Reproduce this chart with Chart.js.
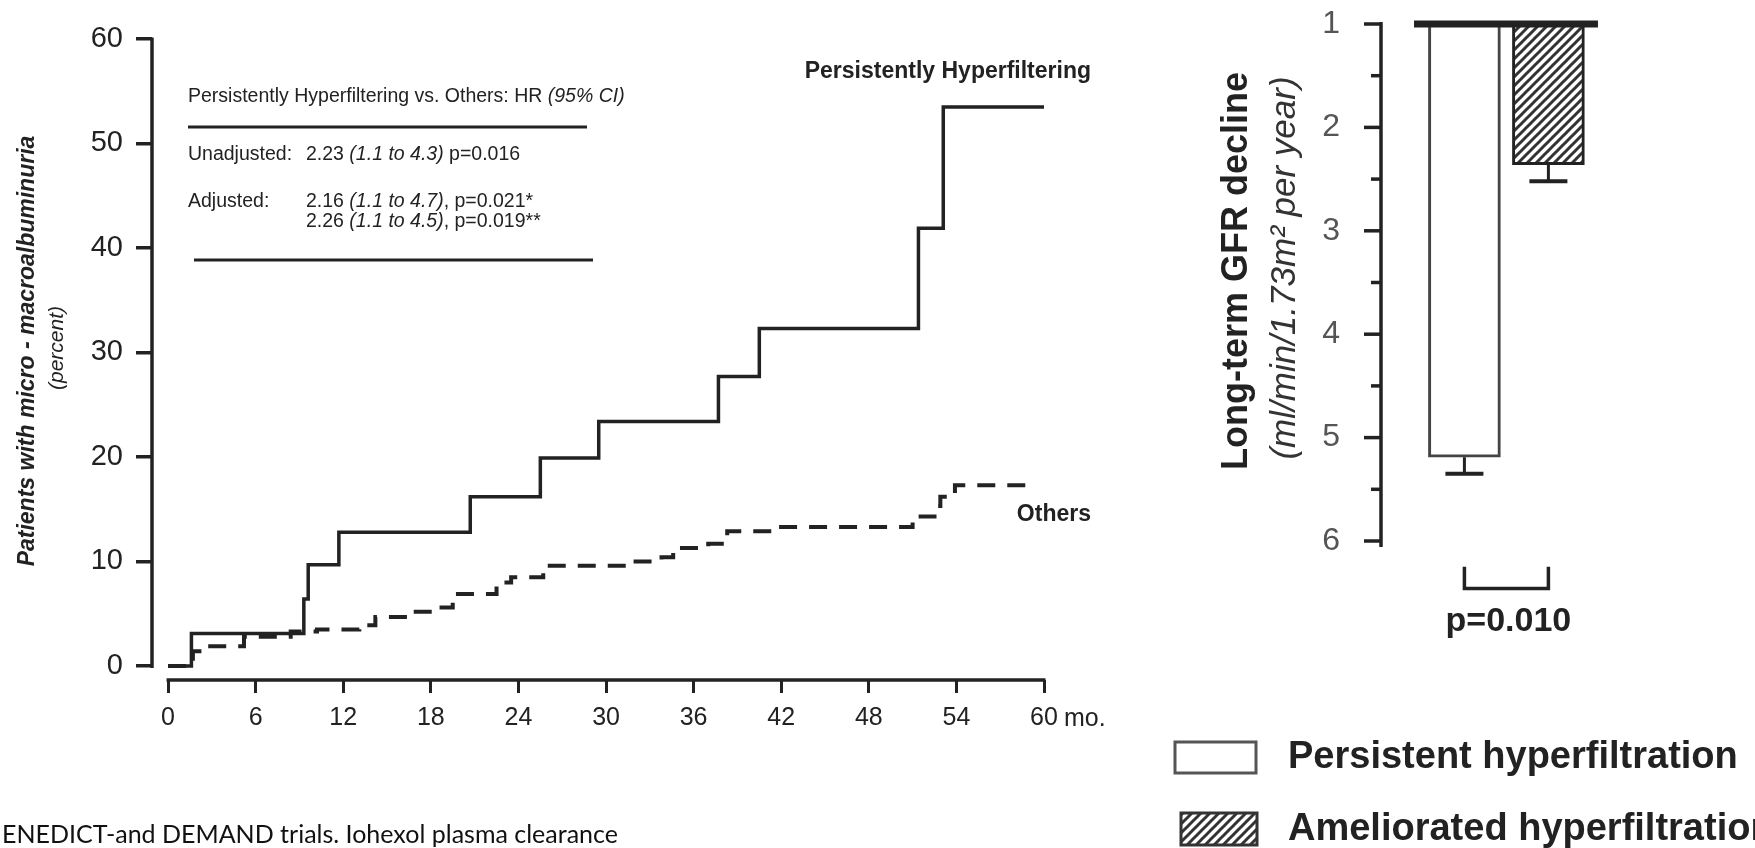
<!DOCTYPE html>
<html>
<head>
<meta charset="utf-8">
<script src="https://cdn.jsdelivr.net/npm/chart.js@4.4.0/dist/chart.umd.min.js"></script>
<style>
  html, body { margin: 0; padding: 0; background: #fff; }
  #wrap { position: relative; width: 1755px; height: 848px; overflow: hidden; }
  #kmChart { position: absolute; left: 0; top: 0; }
  #gfrChart { position: absolute; left: 1150px; top: 0; }
  #caption { position: absolute; left: 2px; top: 821px; font: 25px/25px Lato, sans-serif; color: #111; white-space: nowrap; }
</style>
</head>
<body>
<div id="wrap">
  <canvas id="kmChart" width="1150" height="848"></canvas>
  <canvas id="gfrChart" width="605" height="848"></canvas>
  <div id="caption">ENEDICT-and DEMAND trials. Iohexol plasma clearance</div>
</div>
<script>
// left panel: cumulative incidence (step curves)
const monthTicks = [0, 6, 12, 18, 24, 30, 36, 42, 48, 54, 60];
const percentTicks = [0, 10, 20, 30, 40, 50, 60];
const seriesNames = ['Persistently Hyperfiltering', 'Others'];
const hyperMonths = [0, 1.6, 9.3, 9.6, 11.7, 20.7, 25.5, 29.5, 37.7, 40.5, 51.4, 53.1, 60];
const hyperPct = [0, 3.1, 6.4, 9.7, 12.8, 16.2, 19.9, 23.4, 27.7, 32.3, 41.9, 53.5, 53.5];
const otherMonths = [0, 1.7, 2.6, 5.2, 8.4, 10.2, 13.1, 14.2, 16.4, 18.5, 19.5, 22.5, 23.5, 25.7, 31.4, 33.8, 34.6, 37.0, 38.3, 41.5, 51.0, 52.5, 52.9, 53.9, 59.5];
const otherPct = [0, 1.4, 1.9, 2.8, 3.3, 3.5, 3.9, 4.7, 5.2, 5.6, 6.9, 8.0, 8.5, 9.6, 10.0, 10.4, 11.3, 11.7, 12.9, 13.3, 14.3, 15.3, 16.2, 17.3, 17.3];

// right panel: GFR decline bars
const groups = ['Persistent hyperfiltration', 'Ameliorated hyperfiltration'];
const gfrDecline = [5.19, 2.36];
const gfrSem = [0.16, 0.16];
const gfrTicks = [1, 1.5, 2, 2.5, 3, 3.5, 4, 4.5, 5, 5.5, 6];
const pText = 'p=0.010';

const FONT = '"Liberation Sans", Arial, sans-serif';
const INK = '#222';
Chart.defaults.font.family = FONT;
Chart.defaults.color = INK;

function font(size, style) {
  return (style || '') + ' ' + size + 'px ' + FONT;
}

function runs(ctx, parts, x, y, size) {
  let cx = x;
  parts.forEach(p => {
    ctx.font = font(size, p[1] ? 'italic' : '');
    ctx.fillText(p[0], cx, y);
    cx += ctx.measureText(p[0]).width;
  });
}

function vtext(ctx, s, x, y, f) {
  ctx.save();
  ctx.translate(x, y);
  ctx.rotate(-Math.PI / 2);
  ctx.font = f;
  ctx.textAlign = 'center';
  ctx.textBaseline = 'middle';
  ctx.fillText(s, 0, 0);
  ctx.restore();
}

function line(ctx, x1, y1, x2, y2) {
  ctx.beginPath();
  ctx.moveTo(x1, y1);
  ctx.lineTo(x2, y2);
  ctx.stroke();
}

const kmDecor = {
  id: 'kmDecor',
  afterDraw(chart) {
    const ctx = chart.ctx;
    const x = chart.scales.x;
    const y = chart.scales.y;
    ctx.save();
    ctx.strokeStyle = INK;
    ctx.fillStyle = INK;
    ctx.lineWidth = 3.5;
    line(ctx, x.left, y.getPixelForValue(60) - 1.5, x.left, y.getPixelForValue(0) + 2);
    line(ctx, x.getPixelForValue(0) - 1.5, y.bottom, x.getPixelForValue(60) + 1.5, y.bottom);

    // "mo." after the last month label
    ctx.font = font(25);
    ctx.textBaseline = 'middle';
    ctx.textAlign = 'left';
    ctx.fillText('mo.', x.getPixelForValue(60) + 20, 719);

    // axis title
    vtext(ctx, 'Patients with micro - macroalbuminuria', 28, 351, font(23, 'bold italic'));
    vtext(ctx, '(percent)', 57, 348, font(21, 'italic'));

    // hazard ratio box
    ctx.textAlign = 'left';
    ctx.textBaseline = 'middle';
    runs(ctx, [['Persistently Hyperfiltering vs. Others: HR ', false], ['(95% CI)', true]], 188, 97, 19.5);
    ctx.lineWidth = 3;
    line(ctx, 188, 127, 587, 127);
    runs(ctx, [['Unadjusted:', false]], 188, 155, 19.5);
    runs(ctx, [['2.23 ', false], ['(1.1 to 4.3)', true], [' p=0.016', false]], 306, 155, 19.5);
    runs(ctx, [['Adjusted:', false]], 188, 202, 19.5);
    runs(ctx, [['2.16 ', false], ['(1.1 to 4.7)', true], [', p=0.021*', false]], 306, 202, 19.5);
    runs(ctx, [['2.26 ', false], ['(1.1 to 4.5)', true], [', p=0.019**', false]], 306, 222, 19.5);
    line(ctx, 194, 260, 593, 260);

    // curve labels
    ctx.font = font(23, 'bold');
    ctx.textAlign = 'right';
    ctx.fillText(seriesNames[0], 1091, 72);
    ctx.fillText(seriesNames[1], 1091, 515);
    ctx.restore();
  }
};

new Chart(document.getElementById('kmChart'), {
  type: 'line',
  data: {
    datasets: [{
      label: seriesNames[0],
      data: hyperMonths.map((m, i) => ({ x: m, y: hyperPct[i] })),
      borderColor: INK,
      borderWidth: 3.5,
      stepped: 'before',
      pointRadius: 0,
      fill: false
    }, {
      label: seriesNames[1],
      data: otherMonths.map((m, i) => ({ x: m, y: otherPct[i] })),
      borderColor: INK,
      borderWidth: 4,
      borderDash: [18, 12],
      stepped: 'before',
      pointRadius: 0,
      fill: false
    }]
  },
  options: {
    responsive: false,
    animation: false,
    devicePixelRatio: 1,
    layout: { padding: { top: 39, right: 106, left: 0, bottom: 0 } },
    plugins: { legend: { display: false }, tooltip: { enabled: false } },
    scales: {
      x: {
        type: 'linear',
        min: -1.1,
        max: 60,
        afterBuildTicks: s => { s.ticks = monthTicks.map(v => ({ value: v })); },
        afterFit: s => { s.height = 168; s.paddingLeft = 0; s.paddingRight = 0; },
        border: { display: false },
        grid: { drawOnChartArea: false, tickLength: 13, lineWidth: 3, color: INK },
        ticks: { font: { size: 25 }, color: INK, padding: 10, maxRotation: 0, autoSkip: false }
      },
      y: {
        type: 'linear',
        min: -1.34,
        max: 60,
        afterBuildTicks: s => { s.ticks = percentTicks.map(v => ({ value: v })); },
        afterFit: s => { s.width = 152; s.paddingTop = 0; s.paddingBottom = 0; },
        border: { display: false },
        grid: { drawOnChartArea: false, tickLength: 16, lineWidth: 3.5, color: INK },
        ticks: { font: { size: 29 }, color: INK, padding: 13 }
      }
    }
  },
  plugins: [kmDecor]
});

function hatch() {
  const c = document.createElement('canvas');
  c.width = 9;
  c.height = 9;
  const g = c.getContext('2d');
  g.fillStyle = '#fff';
  g.fillRect(0, 0, 9, 9);
  g.strokeStyle = '#333';
  g.lineWidth = 3;
  line(g, -1, 10, 10, -1);
  line(g, -1, 1, 1, -1);
  line(g, 8, 10, 10, 8);
  return g.createPattern(c, 'repeat');
}

const ctxR = document.getElementById('gfrChart').getContext('2d');
const hatchFill = hatch();

const gfrDecor = {
  id: 'gfrDecor',
  afterDatasetsDraw(chart) {
    const ctx = chart.ctx;
    const x = chart.scales.x;
    const y = chart.scales.y;
    const bars = chart.getDatasetMeta(0).data;
    ctx.save();
    ctx.strokeStyle = INK;
    ctx.fillStyle = INK;

    // error bars
    bars.forEach((b, i) => {
      const top = y.getPixelForValue(gfrDecline[i]);
      const end = y.getPixelForValue(gfrDecline[i] + gfrSem[i]);
      ctx.lineWidth = 3;
      line(ctx, b.x, top, b.x, end);
      ctx.lineWidth = 4;
      line(ctx, b.x - 19, end, b.x + 19, end);
    });

    // baseline at 1
    ctx.lineWidth = 7;
    line(ctx, x.getPixelForValue(-0.6), y.getPixelForValue(1), x.getPixelForValue(1.59), y.getPixelForValue(1));

    // y axis with major / minor ticks
    const ax = chart.chartArea.left;
    ctx.lineWidth = 3.5;
    line(ctx, ax, y.getPixelForValue(1) - 2, ax, y.getPixelForValue(6) + 6);
    gfrTicks.forEach(v => {
      const len = Number.isInteger(v) ? 17 : 10;
      line(ctx, ax - len, y.getPixelForValue(v), ax, y.getPixelForValue(v));
    });

    // significance bracket
    const x0 = x.getPixelForValue(0);
    const x1 = x.getPixelForValue(1);
    const yt = y.getPixelForValue(6.25);
    const yb = y.getPixelForValue(6.46);
    ctx.lineWidth = 3.5;
    ctx.lineJoin = 'miter';
    ctx.beginPath();
    ctx.moveTo(x0, yt);
    ctx.lineTo(x0, yb);
    ctx.lineTo(x1, yb);
    ctx.lineTo(x1, yt);
    ctx.stroke();
    ctx.font = font(34, 'bold');
    ctx.textAlign = 'center';
    ctx.textBaseline = 'middle';
    ctx.fillText(pText, (x0 + x1) / 2 + 2, y.getPixelForValue(6.78));

    // axis titles
    vtext(ctx, 'Long-term GFR decline', 87, 271, font(36, 'bold'));
    ctx.fillStyle = '#333';
    vtext(ctx, '(ml/min/1.73m\u00b2 per year)', 135, 268, font(35, 'italic'));

    // legend
    ctx.fillStyle = '#fff';
    ctx.strokeStyle = '#555';
    ctx.lineWidth = 3;
    ctx.fillRect(25, 742, 81, 31);
    ctx.strokeRect(25, 742, 81, 31);
    ctx.fillStyle = hatchFill;
    ctx.strokeStyle = '#333';
    ctx.fillRect(31, 813, 76, 32);
    ctx.strokeRect(31, 813, 76, 32);
    ctx.fillStyle = INK;
    ctx.font = font(38, 'bold');
    ctx.textAlign = 'left';
    ctx.textBaseline = 'middle';
    ctx.fillText(groups[0], 138, 758);
    ctx.fillText(groups[1], 138, 830);
    ctx.restore();
  }
};

new Chart(ctxR, {
  type: 'bar',
  data: {
    datasets: [{
      label: 'GFR decline',
      data: gfrDecline.map((v, i) => ({ x: i, y: v })),
      backgroundColor: ['#fff', hatchFill],
      borderColor: ['#444', '#222'],
      borderWidth: 3,
      borderSkipped: 'start',
      barThickness: 72
    }]
  },
  options: {
    responsive: false,
    animation: false,
    devicePixelRatio: 1,
    layout: { padding: { top: 24, right: 132, left: 0, bottom: 307 } },
    plugins: { legend: { display: false }, tooltip: { enabled: false } },
    scales: {
      x: { type: 'linear', min: -0.705, max: 1.6, display: false },
      y: {
        type: 'linear',
        reverse: true,
        min: 1,
        max: 6,
        afterBuildTicks: s => { s.ticks = gfrTicks.map(v => ({ value: v })); },
        afterFit: s => { s.width = 231; s.paddingTop = 0; s.paddingBottom = 0; },
        border: { display: false },
        grid: { display: false, drawTicks: false },
        ticks: {
          font: { size: 32 },
          color: '#555',
          padding: 41,
          callback: v => Number.isInteger(v) ? String(v) : ''
        }
      }
    }
  },
  plugins: [gfrDecor]
});
</script>
</body>
</html>
